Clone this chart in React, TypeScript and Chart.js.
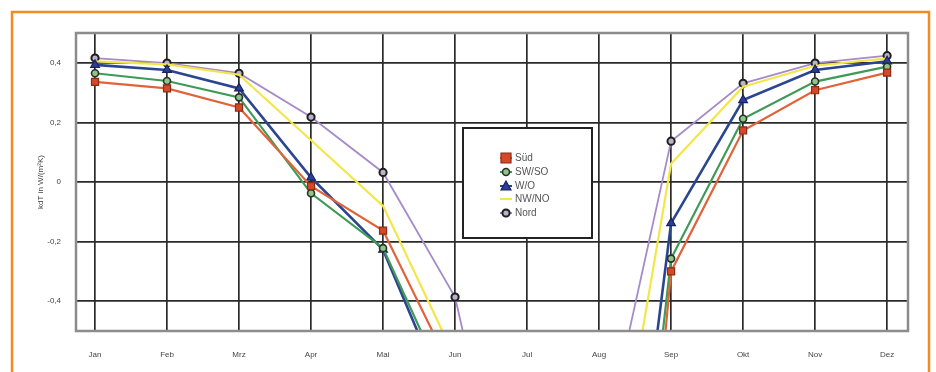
import React, { useEffect, useRef } from "react";
import { Chart, registerables } from "chart.js";

Chart.register(...registerables);

const months = ["Jan", "Feb", "Mrz", "Apr", "Mai", "Jun", "Jul", "Aug", "Sep", "Okt", "Nov", "Dez"];
const yTickValues = [-0.4, -0.2, 0, 0.2, 0.4];
const yTickLabels = ["-0,4", "-0,2", "0", "0,2", "0,4"];
const yTitle = "kdT in W/(m²K)";
const seriesNames = ["Süd", "SW/SO", "W/O", "NW/NO", "Nord"];

const sued = [0.336, 0.314, 0.25, -0.014, -0.163, -0.655, -3.2, -2.9, -0.3, 0.173, 0.308, 0.367];
const swso = [0.365, 0.339, 0.284, -0.038, -0.222, -0.75, -2.8, -2.4, -0.257, 0.212, 0.337, 0.387];
const wo = [0.393, 0.376, 0.314, 0.015, -0.227, -0.8, -2.6, -2.05, -0.138, 0.275, 0.376, 0.405];
const nwno = [0.405, 0.395, 0.36, 0.14, -0.08, -0.59, -2.0, -1.35, 0.061, 0.32, 0.39, 0.415];
const nord = [0.416, 0.399, 0.365, 0.218, 0.032, -0.386, -1.45, -0.96, 0.137, 0.331, 0.399, 0.424];

const FONT = "'Liberation Sans', Arial, sans-serif";

function toPoints(values: number[]) {
  return values.map((v, i) => ({ x: i, y: v }));
}

const framePlugin = {
  id: "frames",
  afterDraw(chart: any) {
    const { ctx, chartArea } = chart;
    ctx.save();
    ctx.strokeStyle = "#8c8c8c";
    ctx.lineWidth = 2.5;
    ctx.strokeRect(chartArea.left, chartArea.top, chartArea.right - chartArea.left, chartArea.bottom - chartArea.top);
    ctx.strokeStyle = "#f48a22";
    ctx.lineWidth = 2.5;
    ctx.beginPath();
    ctx.moveTo(12, 380);
    ctx.lineTo(12, 12);
    ctx.lineTo(929, 12);
    ctx.lineTo(929, 380);
    ctx.stroke();
    ctx.restore();
  },
};

const legendPlugin = {
  id: "boxLegend",
  afterDraw(chart: any) {
    const { ctx } = chart;
    const x0 = 463, y0 = 128, w = 129, h = 110;
    ctx.save();
    ctx.fillStyle = "#ffffff";
    ctx.fillRect(x0, y0, w, h);
    ctx.strokeStyle = "#222222";
    ctx.lineWidth = 2;
    ctx.strokeRect(x0, y0, w, h);
    const rows = [158, 172, 186, 199, 213];
    chart.data.datasets.forEach((ds: any, i: number) => {
      const cy = rows[i];
      const mx = 506;
      ctx.strokeStyle = ds.borderColor;
      ctx.lineWidth = 2;
      ctx.beginPath();
      ctx.moveTo(mx - 6, cy);
      ctx.lineTo(mx + 6, cy);
      ctx.stroke();
      const r = ds.pointRadius;
      if (r > 0) {
        ctx.fillStyle = ds.pointBackgroundColor;
        ctx.strokeStyle = ds.pointBorderColor;
        ctx.lineWidth = ds.pointBorderWidth;
        ctx.beginPath();
        if (ds.pointStyle === "rect") {
          ctx.rect(mx - r, cy - r, 2 * r, 2 * r);
        } else if (ds.pointStyle === "triangle") {
          ctx.moveTo(mx, cy - r);
          ctx.lineTo(mx + r, cy + r * 0.8);
          ctx.lineTo(mx - r, cy + r * 0.8);
          ctx.closePath();
        } else {
          ctx.arc(mx, cy, r, 0, Math.PI * 2);
        }
        ctx.fill();
        ctx.stroke();
      }
      ctx.fillStyle = "#555555";
      ctx.font = "10px " + FONT;
      ctx.textBaseline = "middle";
      ctx.textAlign = "left";
      ctx.fillText(ds.label, 515, cy + 0.5);
    });
    ctx.restore();
  },
};

export default function App() {
  const canvasRef = useRef<HTMLCanvasElement | null>(null);

  useEffect(() => {
    const canvas = canvasRef.current;
    if (!canvas) return;
    const mk = (
      i: number,
      values: number[],
      color: string,
      width: number,
      style: string,
      radius: number,
      bg: string,
      bc: string,
      bw: number
    ) => ({
      label: seriesNames[i],
      data: toPoints(values),
      borderColor: color,
      borderWidth: width,
      pointStyle: style,
      pointRadius: radius,
      pointBackgroundColor: bg,
      pointBorderColor: bc,
      pointBorderWidth: bw,
      tension: 0,
      clip: 1,
    });
    const chart = new Chart(canvas, {
      type: "line",
      data: {
        datasets: [
          mk(0, sued, "#e0643a", 2.2, "rect", 5, "#d5482a", "#8a2e14", 1.2),
          mk(1, swso, "#3f9a58", 2.2, "circle", 3.5, "#8fc48a", "#263326", 1.6),
          mk(2, wo, "#2b4590", 2.6, "triangle", 5, "#2b3f95", "#1a2260", 1.2),
          mk(3, nwno, "#f3e648", 2.2, "circle", 0, "#f3e648", "#f3e648", 1),
          mk(4, nord, "#a68bc9", 1.8, "circle", 3.6, "#b9b3c9", "#1e1e1e", 2),
        ] as any,
      },
      options: {
        animation: false,
        responsive: false,
        maintainAspectRatio: false,
        layout: { padding: { left: 0, top: 33, right: 28, bottom: 0 } },
        plugins: {
          legend: { display: false },
          tooltip: { enabled: false },
        },
        scales: {
          x: {
            type: "linear",
            min: -0.264,
            max: 11.29,
            afterBuildTicks: (scale: any) => {
              scale.ticks = months.map((_, i) => ({ value: i }));
            },
            afterFit: (scale: any) => {
              scale.height = 41;
            },
            ticks: {
              autoSkip: false,
              maxRotation: 0,
              padding: 19,
              color: "#444444",
              font: { family: FONT, size: 8 },
              callback: (v: any) => months[Math.round(Number(v))],
            },
            grid: { color: "#2a2a2a", lineWidth: 1.7, drawTicks: false },
            border: { display: false },
          },
          y: {
            type: "linear",
            min: -0.5,
            max: 0.5,
            afterBuildTicks: (scale: any) => {
              scale.ticks = yTickValues.map((v) => ({ value: v }));
            },
            afterFit: (scale: any) => {
              scale.width = 76;
            },
            ticks: {
              padding: 15,
              color: "#444444",
              font: { family: FONT, size: 8 },
              callback: (v: any) => {
                const idx = yTickValues.findIndex((t) => Math.abs(t - Number(v)) < 1e-6);
                return idx >= 0 ? yTickLabels[idx] : "";
              },
            },
            title: {
              display: true,
              text: yTitle,
              color: "#444444",
              font: { family: FONT, size: 8 },
              padding: { top: 36, bottom: 0 },
            },
            grid: { color: "#2a2a2a", lineWidth: 1.7, drawTicks: false },
            border: { display: false },
          },
        },
      } as any,
      plugins: [framePlugin, legendPlugin],
    });
    return () => chart.destroy();
  }, []);

  return (
    <div style={{ position: "fixed", left: 0, top: 0, width: 936, height: 372, background: "#ffffff" }}>
      <canvas ref={canvasRef} width={936} height={372} style={{ display: "block" }} />
    </div>
  );
}
